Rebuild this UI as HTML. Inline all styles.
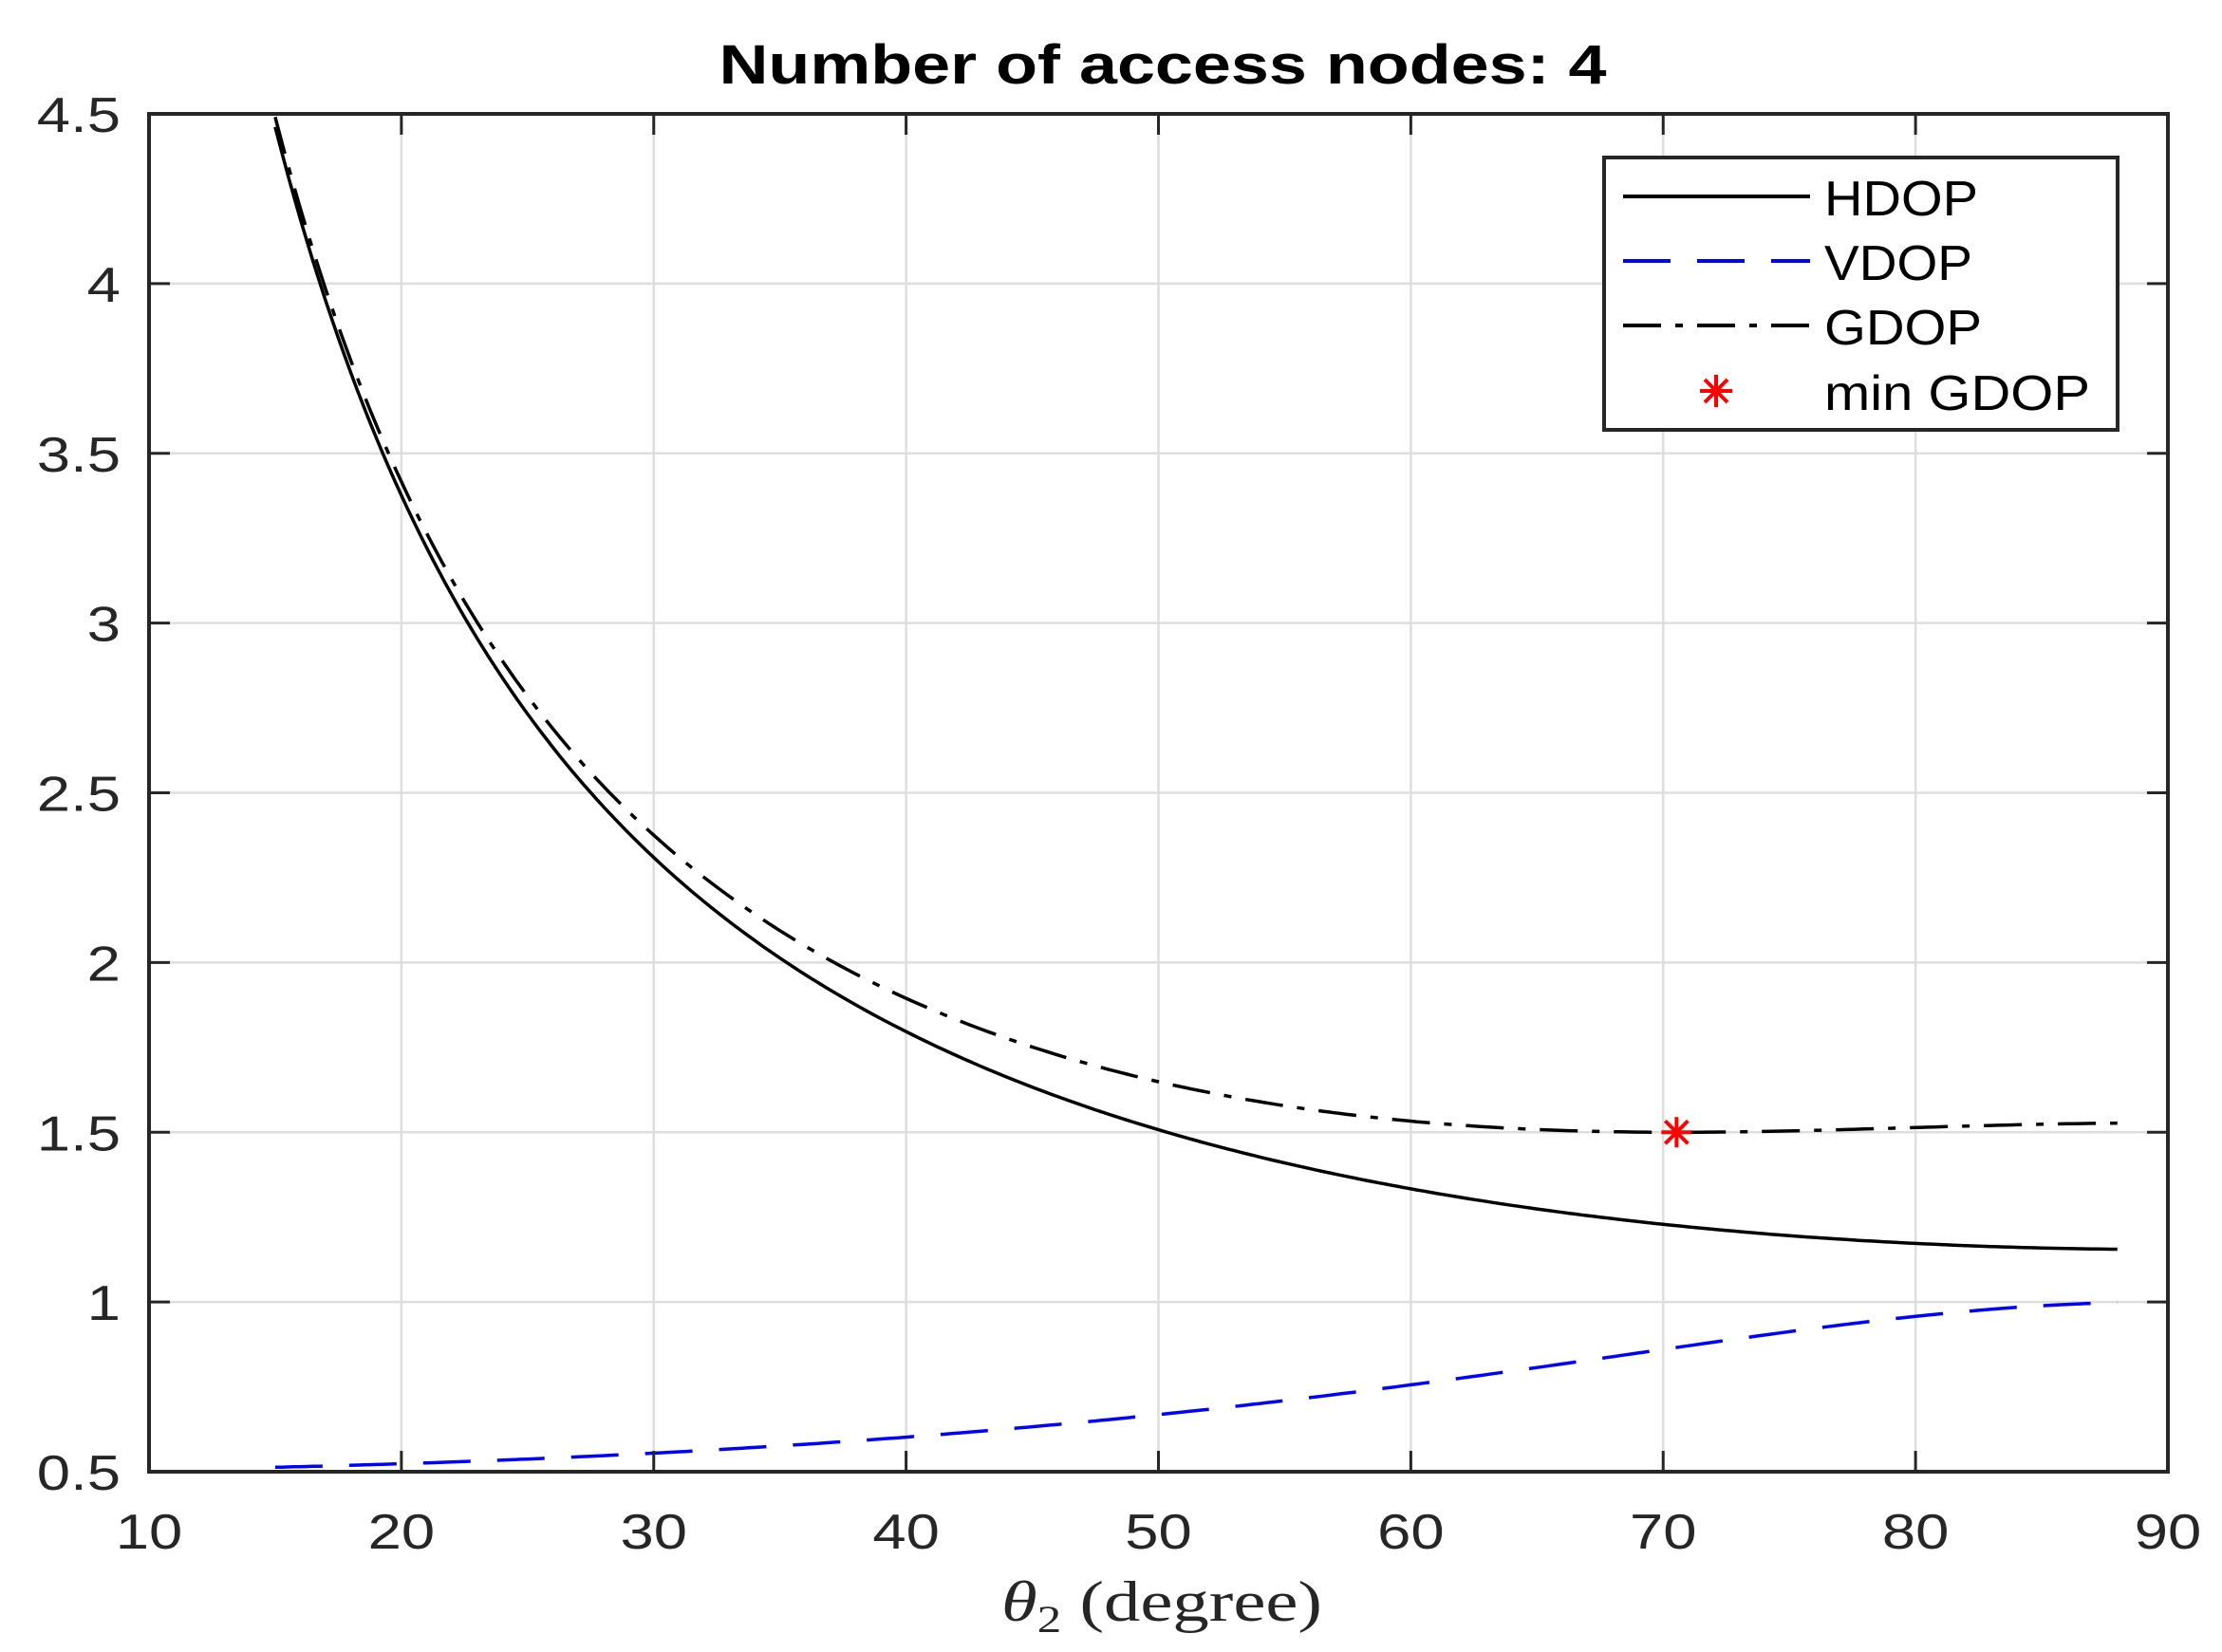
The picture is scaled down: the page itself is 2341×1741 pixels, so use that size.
<!DOCTYPE html>
<html><head><meta charset="utf-8"><style>
html,body{margin:0;padding:0;background:#fff;}
svg{display:block;}
</style></head><body>
<svg id="c" width="2341" height="1741" xmlns="http://www.w3.org/2000/svg" font-family="Liberation Sans, sans-serif">
<g id="grid" stroke="#dedede" stroke-width="2.5"></g>
<g id="series"></g>
<g id="axes"></g>
<text x="1225" y="88" font-size="58" font-weight="bold" text-anchor="middle" fill="#000" textLength="935" lengthAdjust="spacingAndGlyphs">Number of access nodes: 4</text>
<text x="1224" y="1708" font-size="60" text-anchor="middle" font-family="Liberation Serif, serif" fill="#262626" textLength="338" lengthAdjust="spacingAndGlyphs"><tspan font-style="italic">θ</tspan><tspan font-size="40" dy="12">2</tspan><tspan dy="-12"> (degree)</tspan></text>
<g>
<rect x="1690" y="166" width="541" height="287" fill="#fff" stroke="#262626" stroke-width="4"/>
<line x1="1710" y1="207" x2="1907" y2="207" stroke="#000" stroke-width="4"/>
<line x1="1710" y1="275" x2="1907" y2="275" stroke="#0000ff" stroke-width="4" stroke-dasharray="50,28"/>
<line x1="1710" y1="343" x2="1907" y2="343" stroke="#000" stroke-width="4" stroke-dasharray="40,15,8,15"/>
<g stroke="#ff0000" stroke-width="4">
<line x1="1791" y1="412" x2="1825" y2="412"/><line x1="1808" y1="395" x2="1808" y2="429"/>
<line x1="1796" y1="400" x2="1820" y2="424"/><line x1="1820" y1="400" x2="1796" y2="424"/>
</g>
<g font-size="52" fill="#000">
<text x="1922" y="227" textLength="162" lengthAdjust="spacingAndGlyphs">HDOP</text>
<text x="1922" y="295" textLength="156" lengthAdjust="spacingAndGlyphs">VDOP</text>
<text x="1922" y="363" textLength="166" lengthAdjust="spacingAndGlyphs">GDOP</text>
<text x="1922" y="432" textLength="280" lengthAdjust="spacingAndGlyphs">min GDOP</text>
</g>
</g>
</svg>
<script>
var L=157,R=2284,T=120,B=1551;
function X(v){return L+(v-10)/80*(R-L);}
function Y(v){return B-(v-0.5)/4*(B-T);}
var ns="http://www.w3.org/2000/svg";
function el(p,n,a){var e=document.createElementNS(ns,n);for(var k in a)e.setAttribute(k,a[k]);p.appendChild(e);return e;}
function tw(s){var w=0;for(var i=0;i<s.length;i++)w+=(s[i]=='.'?0.278:0.556)*52*1.22;return w.toFixed(1);}
var g=document.getElementById('grid'),ax=document.getElementById('axes'),s=document.getElementById('series');
for(var v=20;v<90;v+=10){el(g,'line',{x1:X(v),x2:X(v),y1:T,y2:B});}
for(var v=1;v<4.5;v+=0.5){el(g,'line',{x1:L,x2:R,y1:Y(v),y2:Y(v)});}
el(ax,'rect',{x:L,y:T,width:R-L,height:B-T,fill:'none',stroke:'#262626','stroke-width':4});
for(var v=10;v<=90;v+=10){var x=X(v);
 el(ax,'line',{x1:x,x2:x,y1:B,y2:B-22,stroke:'#262626','stroke-width':3});
 el(ax,'line',{x1:x,x2:x,y1:T,y2:T+22,stroke:'#262626','stroke-width':3});
 var t=el(ax,'text',{x:x,y:1632,'font-size':52,'text-anchor':'middle',fill:'#262626',textLength:tw(''+v),lengthAdjust:'spacingAndGlyphs'});t.textContent=v;}
var yl=['0.5','1','1.5','2','2.5','3','3.5','4','4.5'];
for(var i=0;i<9;i++){var v=0.5+i*0.5,y=Y(v);
 el(ax,'line',{x1:L,x2:L+22,y1:y,y2:y,stroke:'#262626','stroke-width':3});
 el(ax,'line',{x1:R,x2:R-22,y1:y,y2:y,stroke:'#262626','stroke-width':3});
 var t=el(ax,'text',{x:127,y:y+19,'font-size':52,'text-anchor':'end',fill:'#262626',textLength:tw(yl[i]),lengthAdjust:'spacingAndGlyphs'});t.textContent=yl[i];}
var h=[],vv=[],gg=[];
for(var d=15;d<=88.0001;d+=0.25){var r=d*Math.PI/180;
 var H=1.1547005/Math.sin(r),V=1/Math.sqrt(1+3*Math.cos(r)*Math.cos(r)),G=Math.sqrt(H*H+V*V);
 h.push(X(d).toFixed(1)+','+Y(H).toFixed(1));vv.push(X(d).toFixed(1)+','+Y(V).toFixed(1));gg.push(X(d).toFixed(1)+','+Y(G).toFixed(1));}
el(s,'polyline',{points:h.join(' '),fill:'none',stroke:'#000','stroke-width':3.5});
el(s,'polyline',{points:vv.join(' '),fill:'none',stroke:'#0000ff','stroke-width':3.5,'stroke-dasharray':'50,28'});
el(s,'polyline',{points:gg.join(' '),fill:'none',stroke:'#000','stroke-width':3.5,'stroke-dasharray':'40,15,8,15'});
var mx=X(70.53),my=Y(1.5);
var st=el(s,'g',{stroke:'#ff0000','stroke-width':4});
el(st,'line',{x1:mx-16,x2:mx+16,y1:my,y2:my});el(st,'line',{x1:mx,x2:mx,y1:my-16,y2:my+16});
el(st,'line',{x1:mx-12,x2:mx+12,y1:my-12,y2:my+12});el(st,'line',{x1:mx+12,x2:mx-12,y1:my-12,y2:my+12});
</script>
</body></html>
